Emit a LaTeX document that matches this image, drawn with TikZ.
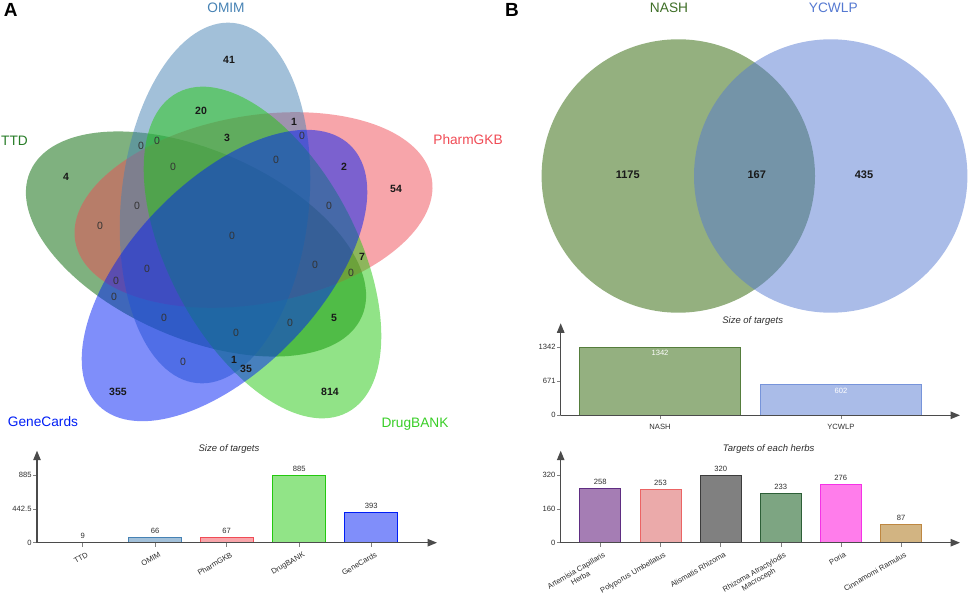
\documentclass[tikz,border=0pt]{standalone}
\usepackage{fontspec}
\setmainfont{Liberation Sans}
\usepackage{tikz}
\usetikzlibrary{arrows.meta,positioning}

\definecolor{ttdc}{RGB}{0,100,0}
\definecolor{pharmc}{RGB}{240,75,85}
\definecolor{omimc}{RGB}{70,130,180}
\definecolor{drugc}{RGB}{35,200,15}
\definecolor{genec}{RGB}{0,30,245}
\definecolor{nashc}{RGB}{41,97,0}
\definecolor{nashtxt}{RGB}{62,110,38}
\definecolor{nashedge}{RGB}{85,125,60}
\definecolor{ycwlpc}{RGB}{85,121,209}
\definecolor{axisgray}{RGB}{75,75,75}
\definecolor{textgray}{RGB}{45,45,45}

\begin{document}
\begin{tikzpicture}[
    x=1pt, y=1pt,
    venn/.style={fill opacity=0.5},
    setlabel/.style={font=\fontsize{13.7}{15}\selectfont},
    panel/.style={font=\fontsize{19}{21}\selectfont\bfseries, text=black},
    num/.style={font=\fontsize{10.5}{12}\selectfont\bfseries, text=black!90},
    zero/.style={font=\fontsize{10.5}{12}\selectfont, text=black!80},
    bignum/.style={font=\fontsize{11}{13}\selectfont\bfseries, text=black!90},
    axis/.style={draw=axisgray, line width=1.1pt, -{Triangle[length=9.5pt,width=7.5pt]}},
    tick/.style={draw=axisgray!70, line width=0.6pt},
    ticklab/.style={font=\fontsize{7.6}{9}\selectfont, text=textgray, anchor=east, inner sep=0pt},
    charttitle/.style={font=\fontsize{9.5}{11}\selectfont\itshape, text=textgray},
    bar/.style={line width=0.9pt, anchor=south, inner sep=0pt, outer sep=0pt},
    barval/.style={font=\fontsize{7.6}{9}\selectfont, text=textgray, inner sep=0pt},
    catlab/.style={font=\fontsize{7.6}{8.4}\selectfont, text=textgray, rotate=30, anchor=north east, inner sep=0pt, align=center}
]
    \useasboundingbox (0,0) rectangle (969,595);

    % Panel letters
    \node[panel] (panA) at (10.8,585) {A};
    \node[panel] (panB) at (512,584.7) {B};

    % Five set Venn
    \fill[venn, ttdc] (196,351) ellipse [x radius=181, y radius=94, rotate=-23.6];
    \fill[venn, pharmc] (253.5,385) ellipse [x radius=181, y radius=94, rotate=10];
    \fill[venn, omimc] (215,392) ellipse [x radius=181, y radius=94, rotate=84.3];
    \fill[venn, drugc] (262.5,342.5) ellipse [x radius=181, y radius=94, rotate=-62];
    \fill[venn, genec] (224.5,319.5) ellipse [x radius=181, y radius=94, rotate=46];

    % Set names
    \node[setlabel, text=omimc] (labOMIM) at (226,587) {OMIM};
    \node[setlabel, text=ttdc!85!white] (labTTD) at (14.5,454) {TTD};
    \node[setlabel, text=pharmc] (labPharm) at (468,455) {PharmGKB};
    \node[setlabel, text=genec] (labGene) at (43,173) {GeneCards};
    \node[setlabel, text=drugc!90!white] (labDrug) at (415,171) {DrugBANK};

    % Region counts
    \node[num] (omimOnly) at (229,535) {41};
    \node[num] (omimDrug) at (201,484) {20};
    \node[num] (omimPharm) at (294,473) {1};
    \node[num] (omimDrugPharm) at (227,457) {3};
    \node[num] (ttdOnly) at (66,418) {4};
    \node[num] (pharmGene) at (344,428) {2};
    \node[num] (pharmOnly) at (396,406) {54};
    \node[num] (pharmDrug) at (362,338) {7};
    \node[num] (ttdDrug) at (334,277) {5};
    \node[num] (omimGene) at (234,235) {1};
    \node[num] (drugGene) at (246,226) {35};
    \node[num] (geneOnly) at (118,203) {355};
    \node[num] (drugOnly) at (330,203) {814};

    \node[zero] (z01) at (302,459) {0};
    \node[zero] (z02) at (141,449) {0};
    \node[zero] (z03) at (157,454) {0};
    \node[zero] (z04) at (173,428) {0};
    \node[zero] (z05) at (276,435) {0};
    \node[zero] (z06) at (137,389) {0};
    \node[zero] (z07) at (329,389) {0};
    \node[zero] (z08) at (100,369) {0};
    \node[zero] (z09) at (232,359) {0};
    \node[zero] (z10) at (351,322) {0};
    \node[zero] (z11) at (147,326) {0};
    \node[zero] (z12) at (315,330) {0};
    \node[zero] (z13) at (116,314) {0};
    \node[zero] (z14) at (114,298) {0};
    \node[zero] (z15) at (164,277) {0};
    \node[zero] (z16) at (290,272) {0};
    \node[zero] (z17) at (236,262) {0};
    \node[zero] (z18) at (183,233) {0};

    % Bar chart A
    \node[charttitle] (titleA) at (229,146) {Size of targets};
    \coordinate (aO) at (37,52.3);
    \coordinate (aY) at (37,144.3);
    \coordinate (aX) at (437,52.3);
    \draw[tick] (37,120) -- (33,120);
    \draw[tick] (37,86.15) -- (33,86.15);
    \draw[tick] (37,52.3) -- (33,52.3);
    \node[ticklab] (tA1) at (31.7,120) {885};
    \node[ticklab] (tA2) at (31.7,86.15) {442.5};
    \node[ticklab] (tA3) at (31.7,52.3) {0};

    \node[bar, draw=ttdc, fill=ttdc!50, minimum width=53, minimum height=0.7] (barTTD) at (82.7,52.3) {};
    \node[bar, draw=omimc, fill=omimc!50, minimum width=53, minimum height=5.05] (barOMIM) at (155,52.3) {};
    \node[bar, draw=pharmc, fill=pharmc!50, minimum width=53, minimum height=5.13] (barPharm) at (226.7,52.3) {};
    \node[bar, draw=drugc, fill=drugc!50, minimum width=53, minimum height=67.7] (barDrug) at (299.2,52.3) {};
    \node[bar, draw=genec, fill=genec!50, minimum width=53, minimum height=30.06] (barGene) at (371.3,52.3) {};

    \node[barval, above=3.5pt of barTTD] (vTTD) {9};
    \node[barval, above=3.5pt of barOMIM] (vOMIM) {66};
    \node[barval, above=3.5pt of barPharm] (vPharm) {67};
    \node[barval, above=3.5pt of barDrug] (vDrug) {885};
    \node[barval, above=3.5pt of barGene] (vGene) {393};

    \draw[tick] (82.7,52.3) -- ++(0,-4);
    \draw[tick] (155,52.3) -- ++(0,-4);
    \draw[tick] (226.7,52.3) -- ++(0,-4);
    \draw[tick] (299.2,52.3) -- ++(0,-4);
    \draw[tick] (371.3,52.3) -- ++(0,-4);
    \node[catlab] (cTTD) at (86.2,43.5) {TTD};
    \node[catlab] (cOMIM) at (158.5,43.5) {OMIM};
    \node[catlab] (cPharm) at (230.2,43.5) {PharmGKB};
    \node[catlab] (cDrug) at (302.7,43.5) {DrugBANK};
    \node[catlab] (cGene) at (374.8,43.5) {GeneCards};

    \draw[axis] (aO) -- (aY);
    \draw[axis] (aO) -- (aX);

    % Two set Venn
    \fill[venn, nashc] (678.3,419) circle [radius=136.7];
    \fill[venn, ycwlpc] (830.7,419) circle [radius=136.7];
    \node[setlabel, text=nashtxt] (labNASH) at (669,587.3) {NASH};
    \node[setlabel, text=ycwlpc] (labYCWLP) at (833.3,587.3) {YCWLP};
    \node[bignum] (nashOnly) at (627.7,420) {1175};
    \node[bignum] (both) at (756.7,420) {167};
    \node[bignum] (ycwlpOnly) at (864,420) {435};

    % Bar chart B, sizes
    \node[charttitle] (titleB) at (752.7,274) {Size of targets};
    \coordinate (bO) at (560.7,179.7);
    \coordinate (bY) at (560.7,271.7);
    \coordinate (bX) at (960,179.7);
    \draw[tick] (560.7,248) -- (556.7,248);
    \draw[tick] (560.7,214) -- (556.7,214);
    \draw[tick] (560.7,179.7) -- (556.7,179.7);
    \node[ticklab] (tB1) at (555.7,248) {1342};
    \node[ticklab] (tB2) at (555.7,214) {671};
    \node[ticklab] (tB3) at (555.7,179.7) {0};

    \node[bar, draw=nashedge, fill=nashc!50, minimum width=161.4, minimum height=68.3] (barNASH) at (660,179.7) {};
    \node[bar, draw=ycwlpc!80!white, fill=ycwlpc!50, minimum width=161.7, minimum height=30.64] (barYCWLP) at (840.9,179.7) {};
    \node[barval, text=white, below=3pt of barNASH.north] (vNASH) {1342};
    \node[barval, text=white, below=3pt of barYCWLP.north] (vYCWLP) {602};

    \draw[tick] (660,179.7) -- ++(0,-4);
    \draw[tick] (840.9,179.7) -- ++(0,-4);
    \node[barval] (cNASH) at (660,167.7) {NASH};
    \node[barval] (cYCWLP) at (840.9,167.7) {YCWLP};

    \draw[axis] (bO) -- (bY);
    \draw[axis] (bO) -- (bX);

    % Bar chart B, herbs
    \node[charttitle] (titleC) at (768.7,146) {Targets of each herbs};
    \coordinate (cO) at (560.7,52.3);
    \coordinate (cY) at (560.7,144.3);
    \coordinate (cX) at (960,52.3);
    \draw[tick] (560.7,120) -- (556.7,120);
    \draw[tick] (560.7,86.15) -- (556.7,86.15);
    \draw[tick] (560.7,52.3) -- (556.7,52.3);
    \node[ticklab] (tC1) at (555.5,120) {320};
    \node[ticklab] (tC2) at (555.5,86.15) {160};
    \node[ticklab] (tC3) at (555.5,52.3) {0};

    \node[bar, draw={rgb,255:red,95;green,45;blue,130}, fill={rgb,255:red,165;green,125;blue,180}, minimum width=41, minimum height=54.58] (barArt) at (600.3,52.3) {};
    \node[bar, draw={rgb,255:red,235;green,100;blue,100}, fill={rgb,255:red,235;green,170;blue,170}, minimum width=41, minimum height=53.53] (barPoly) at (660.5,52.3) {};
    \node[bar, draw={rgb,255:red,60;green,60;blue,60}, fill={rgb,255:red,128;green,128;blue,128}, minimum width=41, minimum height=67.7] (barAlis) at (720.7,52.3) {};
    \node[bar, draw={rgb,255:red,45;green,95;blue,55}, fill={rgb,255:red,125;green,165;blue,130}, minimum width=41, minimum height=49.29] (barRhiz) at (780.8,52.3) {};
    \node[bar, draw={rgb,255:red,245;green,50;blue,230}, fill={rgb,255:red,255;green,125;blue,235}, minimum width=41, minimum height=58.39] (barPoria) at (840.8,52.3) {};
    \node[bar, draw={rgb,255:red,190;green,135;blue,65}, fill={rgb,255:red,210;green,180;blue,130}, minimum width=41, minimum height=18.41] (barCinn) at (901.2,52.3) {};

    \node[barval, above=3.5pt of barArt] (vArt) {258};
    \node[barval, above=3.5pt of barPoly] (vPoly) {253};
    \node[barval, above=3.5pt of barAlis] (vAlis) {320};
    \node[barval, above=3.5pt of barRhiz] (vRhiz) {233};
    \node[barval, above=3.5pt of barPoria] (vPoria) {276};
    \node[barval, above=3.5pt of barCinn] (vCinn) {87};

    \draw[tick] (600.3,52.3) -- ++(0,-4);
    \draw[tick] (660.5,52.3) -- ++(0,-4);
    \draw[tick] (720.7,52.3) -- ++(0,-4);
    \draw[tick] (780.8,52.3) -- ++(0,-4);
    \draw[tick] (840.8,52.3) -- ++(0,-4);
    \draw[tick] (901.2,52.3) -- ++(0,-4);
    \node[catlab] (cArt) at (603,43.5) {Artemisia Capillaris\\Herba};
    \node[catlab] (cPoly) at (663.5,43.5) {Polyporus Umbellatus};
    \node[catlab] (cAlis) at (723.7,43.5) {Alismatis Rhizoma};
    \node[catlab] (cRhiz) at (783.8,43.5) {Rhizoma Atractylodis\\Macroceph};
    \node[catlab] (cPoria) at (843.8,43.5) {Poria};
    \node[catlab] (cCinn) at (904.2,43.5) {Cinnamomi Ramulus};

    \draw[axis] (cO) -- (cY);
    \draw[axis] (cO) -- (cX);
\end{tikzpicture}
\end{document}
